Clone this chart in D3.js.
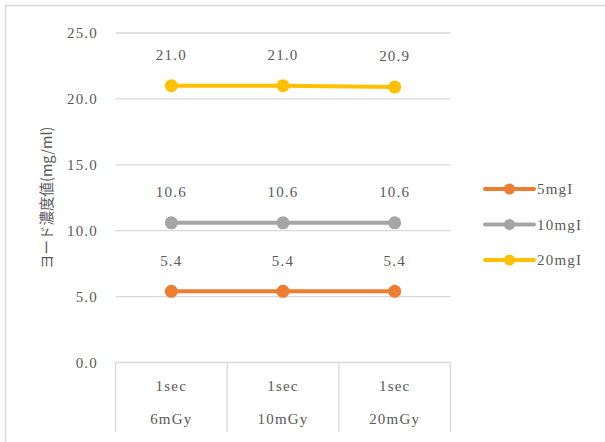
<!DOCTYPE html>
<html>
<head>
<meta charset="utf-8">
<script src="https://cdn.jsdelivr.net/npm/d3@7"></script>
<style>
  html, body { margin: 0; padding: 0; background: #fff; }
  svg { display: block; }
  .lbl { font-family: "Liberation Serif", "DejaVu Serif", serif; fill: #595959; letter-spacing: 1.2px; }
</style>
</head>
<body>
<svg id="chart" width="605" height="442"></svg>
<script>
// Exposure settings along the x axis (two-line labels)
const categories = [["1sec", "6mGy"], ["1sec", "10mGy"], ["1sec", "20mGy"]];
// Series names (iodine concentration of phantom inserts)
const seriesNames = ["5mgI", "10mgI", "20mgI"];
// Measured iodine density per series and exposure
const values5 = [5.4, 5.4, 5.4];
const values10 = [10.6, 10.6, 10.6];
const values20 = [21.0, 21.0, 20.9];
const seriesColors = ["#ED7D31", "#A5A5A5", "#FFC000"];
const yTicks = [0, 5, 10, 15, 20, 25];
const yTitle = "ヨード濃度値(mg/ml)";

const series = [values5, values10, values20].map((v, i) => ({
  name: seriesNames[i], values: v, color: seriesColors[i]
}));

const svg = d3.select("#chart");

// Outer chart frame
svg.append("rect")
  .attr("x", 5.5).attr("y", 5.5)
  .attr("width", 640).attr("height", 480)
  .attr("fill", "none").attr("stroke", "#D9D9D9").attr("stroke-width", 1.5);

const plot = { left: 115.5, right: 450.5, top: 33, bottom: 362.5 };

const x = d3.scaleBand()
  .domain(d3.range(categories.length))
  .range([plot.left, plot.right])
  .padding(0);

const y = d3.scaleLinear()
  .domain([0, 25])
  .range([plot.bottom, plot.top]);

// Horizontal gridlines
svg.append("g")
  .selectAll("line")
  .data(yTicks)
  .join("line")
  .attr("x1", plot.left).attr("x2", plot.right)
  .attr("y1", d => y(d)).attr("y2", d => y(d))
  .attr("stroke", "#D9D9D9").attr("stroke-width", 1.3);

// Y axis tick labels
svg.append("g")
  .selectAll("text")
  .data(yTicks)
  .join("text")
  .attr("class", "lbl")
  .attr("x", 98)
  .attr("y", d => y(d))
  .attr("dy", "0.35em")
  .attr("text-anchor", "end")
  .attr("font-size", 15)
  .text(d => d.toFixed(1));

// Y axis title
svg.append("text")
  .attr("transform", `translate(47,${(plot.top + plot.bottom) / 2}) rotate(-90)`)
  .attr("text-anchor", "middle")
  .attr("dy", "0.35em")
  .attr("font-family", "'Noto Sans CJK JP', sans-serif")
  .attr("font-size", 14.5)
  .attr("fill", "#595959")
  .text(yTitle);

// Category table: dividers below the baseline
const tableBottom = 432;
const dividers = d3.range(categories.length + 1).map(i =>
  i < categories.length ? x(i) : x(categories.length - 1) + x.bandwidth());
svg.append("g")
  .selectAll("line")
  .data(dividers)
  .join("line")
  .attr("x1", d => d).attr("x2", d => d)
  .attr("y1", plot.bottom).attr("y2", tableBottom)
  .attr("stroke", "#D9D9D9").attr("stroke-width", 1.3);

// Category labels
const catG = svg.append("g");
categories.forEach((lines, i) => {
  lines.forEach((t, j) => {
    catG.append("text")
      .attr("class", "lbl")
      .attr("x", x(i) + x.bandwidth() / 2)
      .attr("y", 386 + j * 33)
      .attr("dy", "0.35em")
      .attr("text-anchor", "middle")
      .attr("font-size", 15)
      .text(t);
  });
});

const cx = i => x(i) + x.bandwidth() / 2;
const line = d3.line().x((d, i) => cx(i)).y(d => y(d));

// Series lines, markers, value labels
series.forEach(s => {
  const g = svg.append("g");
  g.append("path")
    .attr("d", line(s.values))
    .attr("fill", "none")
    .attr("stroke", s.color)
    .attr("stroke-width", 4)
    .attr("stroke-linecap", "round");
  g.selectAll("circle")
    .data(s.values)
    .join("circle")
    .attr("cx", (d, i) => cx(i))
    .attr("cy", d => y(d))
    .attr("r", 6.5)
    .attr("fill", s.color);
  g.selectAll("text")
    .data(s.values)
    .join("text")
    .attr("class", "lbl")
    .attr("x", (d, i) => cx(i))
    .attr("y", d => y(d) - 31)
    .attr("dy", "0.35em")
    .attr("text-anchor", "middle")
    .attr("font-size", 15)
    .text(d => d.toFixed(1));
});

// Legend
const legend = svg.append("g");
series.forEach((s, i) => {
  const ly = 189 + i * 35.5;
  legend.append("line")
    .attr("x1", 485).attr("x2", 534)
    .attr("y1", ly).attr("y2", ly)
    .attr("stroke", s.color).attr("stroke-width", 4).attr("stroke-linecap", "round");
  legend.append("circle")
    .attr("cx", 509.5).attr("cy", ly).attr("r", 5.5).attr("fill", s.color);
  legend.append("text")
    .attr("class", "lbl")
    .attr("x", 537)
    .attr("y", ly)
    .attr("dy", "0.35em")
    .attr("font-size", 15)
    .text(s.name);
});
</script>
</body>
</html>
